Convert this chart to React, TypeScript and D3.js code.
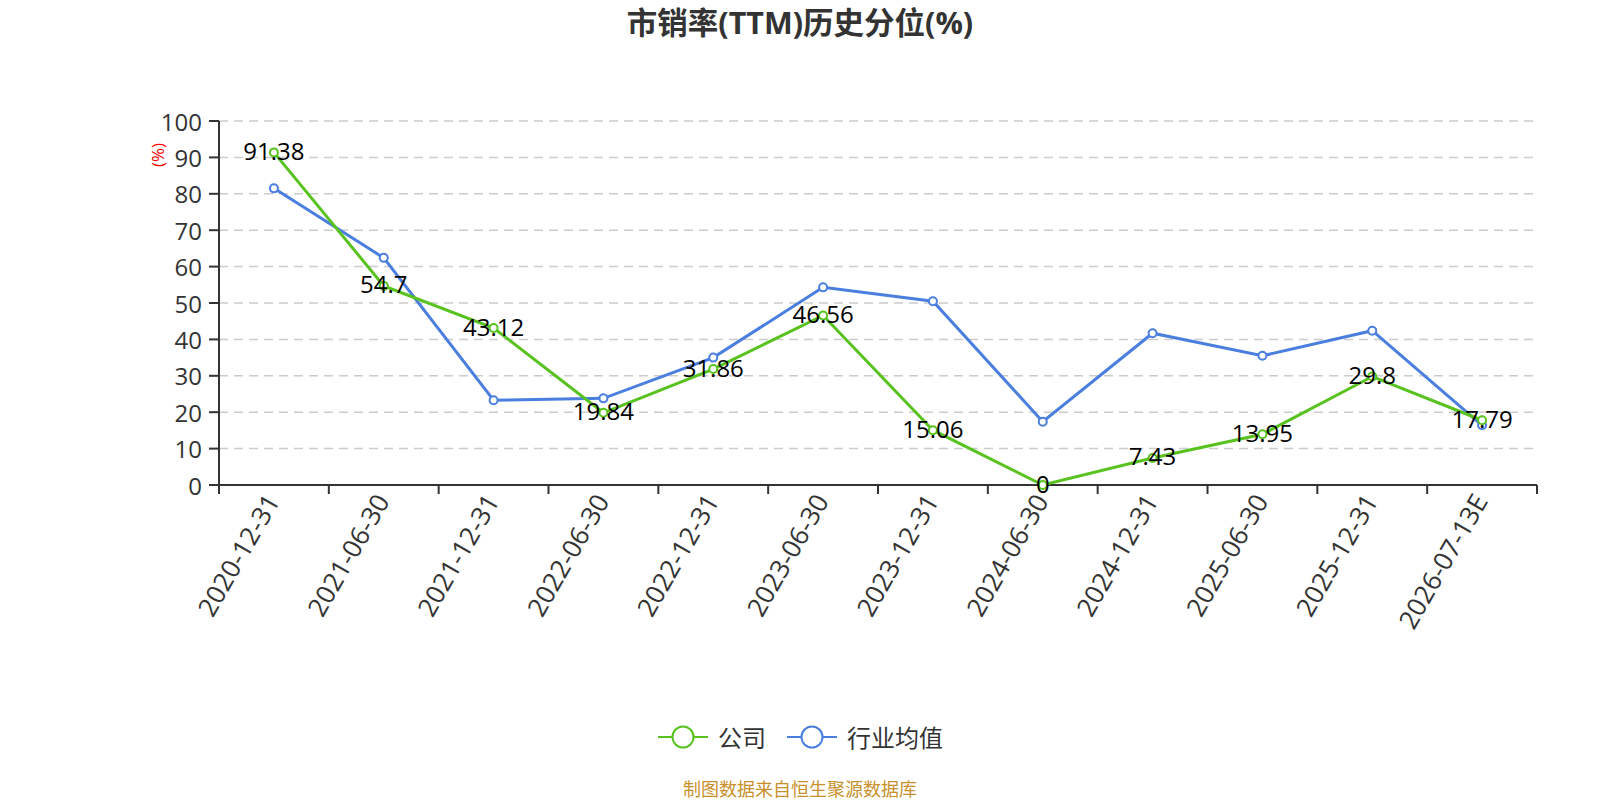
import React from "react";
import * as d3 from "d3";

const categories = ["2020-12-31","2021-06-30","2021-12-31","2022-06-30","2022-12-31","2023-06-30","2023-12-31","2024-06-30","2024-12-31","2025-06-30","2025-12-31","2026-07-13E"];
const companyValues = [91.38, 54.7, 43.12, 19.84, 31.86, 46.56, 15.06, 0, 7.43, 13.95, 29.8, 17.79];
const industryValues = [81.5, 62.4, 23.3, 23.8, 35.0, 54.3, 50.5, 17.4, 41.7, 35.5, 42.4, 16.4];
const yTicks = [0, 10, 20, 30, 40, 50, 60, 70, 80, 90, 100];
const seriesNames = ["公司", "行业均值"];
const colors = ["#58c21f", "#4a7fe0"];

const W = 1600, H = 800;
const left = 219, right = 1537, top = 121, bottom = 485;
const FONT = "'Open Sans', 'Noto Sans CJK SC', sans-serif";

export default function App() {
  const x = d3.scaleBand<string>().domain(categories).range([left, right]);
  const y = d3.scaleLinear().domain([0, 100]).range([bottom, top]);
  const cx = (c: string) => (x(c) as number) + x.bandwidth() / 2;
  const line = d3.line<[string, number]>().x(d => cx(d[0])).y(d => y(d[1]));
  const seriesData = [companyValues, industryValues];
  const tickXs = categories.map(c => x(c) as number).concat([right]);
  const legendX = [658, 787];

  return (
    <svg width={W} height={H} style={{ position: "absolute", left: 0, top: 0, fontFamily: FONT }}>
      <rect width={W} height={H} fill="#fff" />
      <text x={800} y={22} textAnchor="middle" dominantBaseline="central" fontSize={30.5} fontWeight="bold" fill="#333">市销率(TTM)历史分位(%)</text>
      {yTicks.map(t => (
        <g key={t}>
          {t > 0 && <line x1={left} x2={right} y1={y(t)} y2={y(t)} stroke="#ccc" strokeDasharray="9,6" strokeWidth={1.5} />}
          <line x1={left - 10} x2={left} y1={y(t)} y2={y(t)} stroke="#333" strokeWidth={2} />
          <text x={left - 17} y={y(t)} textAnchor="end" dominantBaseline="central" fontSize={24} fill="#333">{t}</text>
        </g>
      ))}
      <text transform={`translate(157,155) rotate(-90)`} textAnchor="middle" dominantBaseline="central" fontSize={17} fill="red">(%)</text>
      <line x1={left} x2={left} y1={top} y2={bottom} stroke="#333" strokeWidth={2} />
      <line x1={left} x2={right} y1={bottom} y2={bottom} stroke="#333" strokeWidth={2} />
      {tickXs.map((tx, i) => (
        <line key={i} x1={tx} x2={tx} y1={bottom} y2={bottom + 9} stroke="#333" strokeWidth={2} />
      ))}
      {categories.map(c => (
        <text key={c} transform={`translate(${cx(c) - 2},${bottom + 11}) rotate(-60)`} textAnchor="end" dominantBaseline="central" fontSize={26} fill="#333">{c}</text>
      ))}
      {[1, 0].map(si => (
        <g key={si}>
          <path d={line(categories.map((c, i) => [c, seriesData[si][i]]) as [string, number][]) || ""} fill="none" stroke={colors[si]} strokeWidth={3} />
          {categories.map((c, i) => (
            <circle key={c} cx={cx(c)} cy={y(seriesData[si][i])} r={4} fill="#fff" stroke={colors[si]} strokeWidth={2} />
          ))}
        </g>
      ))}
      {categories.map((c, i) => (
        <text key={c} x={cx(c)} y={y(companyValues[i]) - 2} textAnchor="middle" dominantBaseline="central" fontSize={24} fill="#000">{companyValues[i]}</text>
      ))}
      {seriesNames.map((n, i) => {
        const lx = legendX[i];
        return (
          <g key={n}>
            <line x1={lx} x2={lx + 50} y1={737} y2={737} stroke={colors[i]} strokeWidth={2} />
            <circle cx={lx + 25} cy={737} r={10.5} fill="#fff" stroke={colors[i]} strokeWidth={2} />
            <text x={lx + 60} y={737} dominantBaseline="central" fontSize={24} fill="#333">{n}</text>
          </g>
        );
      })}
      <text x={800} y={789} textAnchor="middle" dominantBaseline="central" fontSize={18} fill="#c8902a">制图数据来自恒生聚源数据库</text>
    </svg>
  );
}
